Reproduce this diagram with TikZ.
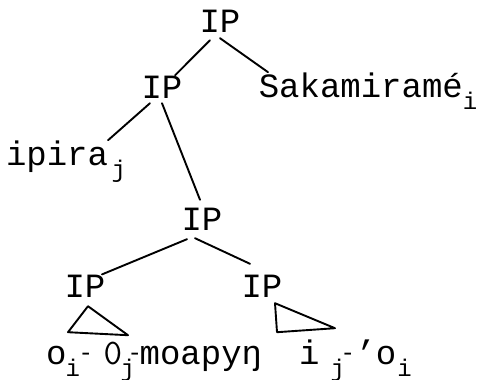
\documentclass[tikz,border=0pt]{standalone}
\usepackage{fontspec}
\usepackage{tikz}
\newfontfamily\typefont{Liberation Mono}
\newcommand{\lowsub}[1]{\raisebox{-12pt}{\fontsize{24}{24}\selectfont #1}}
\newcommand{\tdash}{\raisebox{4pt}{\fontsize{24}{24}\selectfont -}}
\newcommand{\nullzero}{{\ttfamily\fontsize{36}{36}\selectfont 0}}

\begin{document}
\begin{tikzpicture}[
  x=1pt, y=-1pt,
  cat/.style={font=\typefont\fontsize{34}{34}\selectfont, inner sep=0pt, anchor=base},
  word/.style={cat, anchor=base west},
  branch/.style={line width=1.9pt, line cap=round, line join=round}
]
  \useasboundingbox (0,0) rectangle (477,380);

  % IP nodes
  \node[cat] (ipTop) at (220,32) {IP};
  \node[cat] (ipMid) at (162,98) {IP};
  \node[cat] (ipLow) at (202,230) {IP};
  \node[cat] (ipA) at (85,297) {IP};
  \node[cat] (ipB) at (262,297) {IP};

  % words
  \node[word] (saka) at (258.6,97) {Sakamiramé\lowsub{i}};
  \node[word] (ipira) at (5.8,165) {ipira\hspace{3.5pt}\lowsub{j}};
  \node[word] (stem) at (45.8,364) {o\hspace{-0.9pt}\lowsub{i}\hspace{-1.4pt}\tdash\hspace{10.6pt}\nullzero\hspace{-1.4pt}\lowsub{j}\hspace{-7.4pt}\tdash\hspace{-2.4pt}moapyŋ};
  \node[word] (pron) at (298.8,364) {i\hspace{11.1pt}\lowsub{j}\hspace{-4.4pt}\tdash\hspace{0.6pt}’o\hspace{1.1pt}\lowsub{i}};

  % branches
  \draw[branch] ([shift={(-10,8)}]ipTop.south) -- ([shift={(13,0)}]ipMid.north);
  \draw[branch] ([shift={(0,6)}]ipTop.south) -- ([shift={(9.4,0)}]saka.north west);
  \draw[branch] ([shift={(-12,5)}]ipMid.south) -- ([shift={(-18,0)}]ipira.north east);
  \draw[branch] ([shift={(0,5)}]ipMid.south) -- ([shift={(-2,-7.6)}]ipLow.north);
  \draw[branch] ([shift={(-15,9)}]ipLow.south) -- ([shift={(17,0)}]ipA.north);
  \draw[branch] ([shift={(-7,8)}]ipLow.south) -- ([shift={(-12,-10.6)}]ipB.north);

  % triangles
  \draw[branch] ([shift={(3,9)}]ipA.south) -- ([shift={(-17,35)}]ipA.south) -- ([shift={(43,38)}]ipA.south) -- cycle;
  \draw[branch] ([shift={(13,6)}]ipB.south) -- ([shift={(15,35)}]ipB.south) -- ([shift={(73,31)}]ipB.south) -- cycle;
\end{tikzpicture}
\end{document}
